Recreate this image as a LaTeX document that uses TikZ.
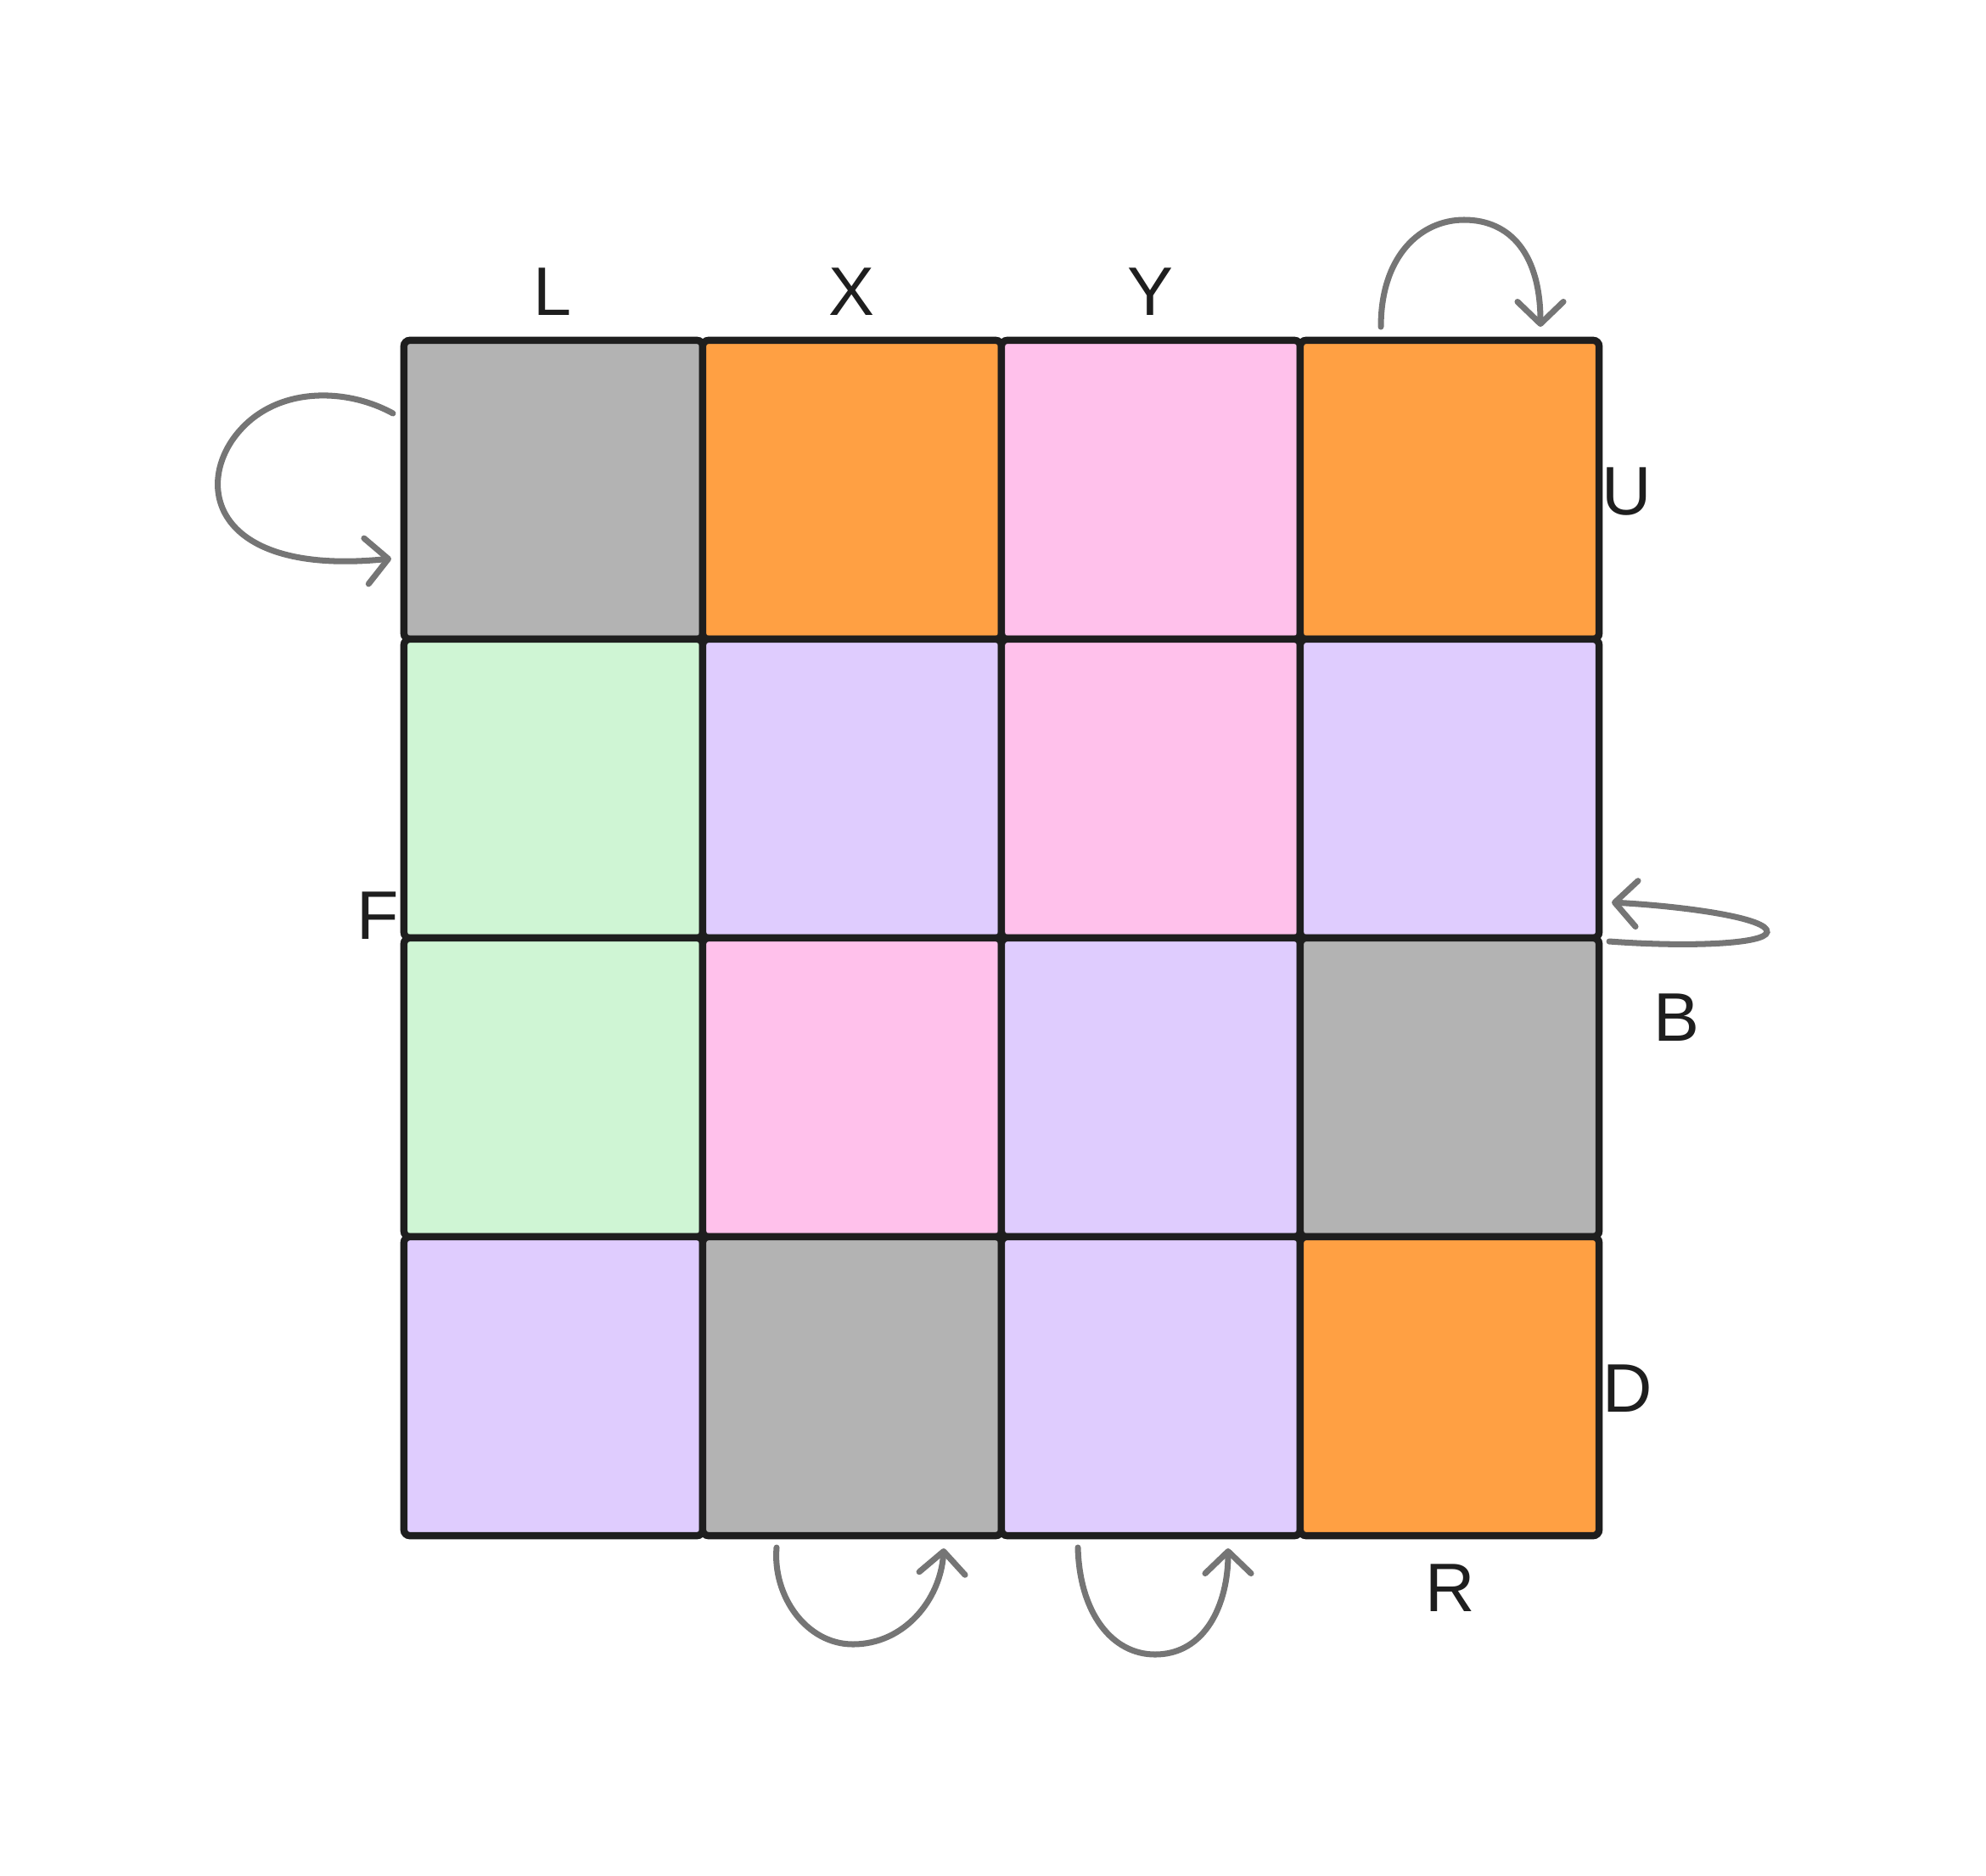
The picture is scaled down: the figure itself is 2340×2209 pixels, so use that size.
\documentclass[tikz,border=0pt]{standalone}
\usepackage{fontspec}
\setmainfont{Liberation Sans}
\usetikzlibrary{arrows.meta}
\definecolor{ink}{HTML}{1E1E1E}
\definecolor{loopgrey}{HTML}{757575}
\definecolor{tilegrey}{HTML}{B3B3B3}
\definecolor{tileorange}{HTML}{FFA043}
\definecolor{tilepink}{HTML}{FFC1EB}
\definecolor{tilelav}{HTML}{DFCCFE}
\definecolor{tilegreen}{HTML}{CFF5D4}
\tikzset{
  tile/.style={draw=ink,line width=2.4pt,rounded corners=0.07cm,minimum size=3.52cm,inner sep=0pt},
  face/.style={text=ink,inner sep=0pt,font=\fontsize{23}{28}\selectfont},
  turn/.style={draw=loopgrey,line width=2pt,line cap=round,-{Straight Barb[length=0.26cm,width=0.54cm,round]}}
}
\begin{document}
\begin{tikzpicture}[x=0.01cm,y=-0.01cm]
\useasboundingbox (0,0) rectangle (2340,2209);
% tiles, row by row
\node[tile,fill=tilegrey]   (t11) at (652,577)  {};
\node[tile,fill=tileorange] (t12) at (1004,577) {};
\node[tile,fill=tilepink]   (t13) at (1356,577) {};
\node[tile,fill=tileorange] (t14) at (1708,577) {};
\node[tile,fill=tilegreen]  (t21) at (652,929)  {};
\node[tile,fill=tilelav]    (t22) at (1004,929) {};
\node[tile,fill=tilepink]   (t23) at (1356,929) {};
\node[tile,fill=tilelav]    (t24) at (1708,929) {};
\node[tile,fill=tilegreen]  (t31) at (652,1281)  {};
\node[tile,fill=tilepink]   (t32) at (1004,1281) {};
\node[tile,fill=tilelav]    (t33) at (1356,1281) {};
\node[tile,fill=tilegrey]   (t34) at (1708,1281) {};
\node[tile,fill=tilelav]    (t41) at (652,1633)  {};
\node[tile,fill=tilegrey]   (t42) at (1004,1633) {};
\node[tile,fill=tilelav]    (t43) at (1356,1633) {};
\node[tile,fill=tileorange] (t44) at (1708,1633) {};
% face labels
\node[face] (fL) at (651,344)   {L};
\node[face] (fX) at (1003,344)  {X};
\node[face] (fY) at (1355,344)  {Y};
\node[face] (fU) at (1917,579)  {U};
\node[face,anchor=east] (fF) at (471,1079) {F};
\node[face] (fB) at (1975,1199) {B};
\node[face] (fD) at (1918,1636) {D};
\node[face] (fR) at (1709,1871) {R};
% turn arrows
\coordinate (l1) at (463,487);  \coordinate (l2) at (461,658);
\coordinate (u1) at (1627,385); \coordinate (u2) at (1815,385);
\coordinate (b1) at (1896,1109); \coordinate (b2) at (1899,1063);
\coordinate (x1) at (915,1823); \coordinate (x2) at (1112,1824);
\coordinate (y1) at (1270,1823); \coordinate (y2) at (1447,1824);
\draw[turn] (l1) .. controls (405,455) and (318,455) .. (274,518)
  .. controls (230,582) and (262,678) .. (l2);
\draw[turn] (u1) .. controls (1627,300) and (1675,259) .. (1725,259)
  .. controls (1780,259) and (1815,300) .. (u2);
\draw[turn] (b1) .. controls (1990,1116) and (2080,1112) .. (2082,1098)
  .. controls (2084,1082) and (1990,1068) .. (b2);
\draw[turn] (x1) .. controls (910,1880) and (950,1937) .. (1005,1937)
  .. controls (1065,1937) and (1108,1885) .. (x2);
\draw[turn] (y1) .. controls (1272,1900) and (1310,1949) .. (1361,1949)
  .. controls (1420,1949) and (1447,1890) .. (y2);
\end{tikzpicture}
\end{document}
